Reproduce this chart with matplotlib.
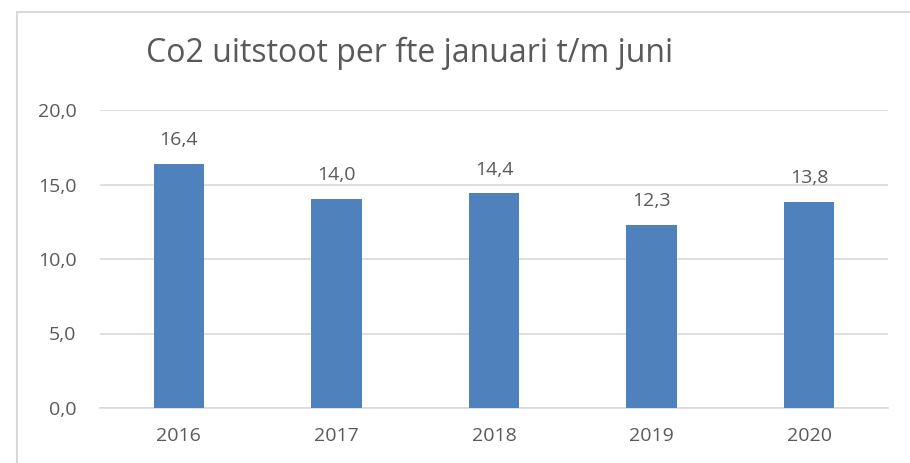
import matplotlib.pyplot as plt
from matplotlib.patches import Rectangle
import numpy as np

# data
years = ["2016", "2017", "2018", "2019", "2020"]
co2_per_fte = [16.4, 14.0, 14.4, 12.3, 13.8]
y_ticks = [0, 5, 10, 15, 20]

BAR_COLOR = "#4f81bd"
TEXT_COLOR = "#595959"
GRID_COLOR = "#d9d9d9"

plt.rcParams["font.family"] = ["Open Sans", "DejaVu Sans"]

fig = plt.figure(figsize=(9.10, 4.63), dpi=100)
W, H = 910, 463

# chart border (light grey frame)
fig.patches.append(Rectangle((17 / W, -0.1), 1.2, 1 - 12 / H + 0.1,
                             transform=fig.transFigure, fill=False,
                             edgecolor=GRID_COLOR, linewidth=1.5))

ax = fig.add_axes([100 / W, (H - 408) / H, (888 - 100) / W, (408 - 110) / H])

x = np.arange(len(years))
bars = ax.bar(x, co2_per_fte, width=0.32, color=BAR_COLOR, zorder=3)

for xi, v in zip(x, co2_per_fte):
    ax.text(xi, v + 1.0, f"{v:.1f}".replace(".", ","), ha="center", va="bottom",
            fontsize=14, color=TEXT_COLOR)

ax.set_xlim(-0.5, len(years) - 0.5)
ax.set_ylim(0, 20)
ax.set_yticks(y_ticks)
ax.set_yticklabels([f"{t:.1f}".replace(".", ",") for t in y_ticks])
ax.set_xticks(x)
ax.set_xticklabels(years)
ax.tick_params(axis="both", length=0, labelsize=14, labelcolor=TEXT_COLOR)
ax.tick_params(axis="y", pad=17)
ax.tick_params(axis="x", pad=14)

ax.grid(axis="y", color=GRID_COLOR, linewidth=1.2, zorder=0)
for s in ["top", "right", "left"]:
    ax.spines[s].set_visible(False)
ax.spines["bottom"].set_color(GRID_COLOR)
ax.spines["bottom"].set_linewidth(1.2)

fig.text(410 / W, 1 - 53 / H, "Co2 uitstoot per fte januari t/m juni",
         ha="center", va="center", fontsize=23, color=TEXT_COLOR)

fig.savefig("out.png", dpi=100)
